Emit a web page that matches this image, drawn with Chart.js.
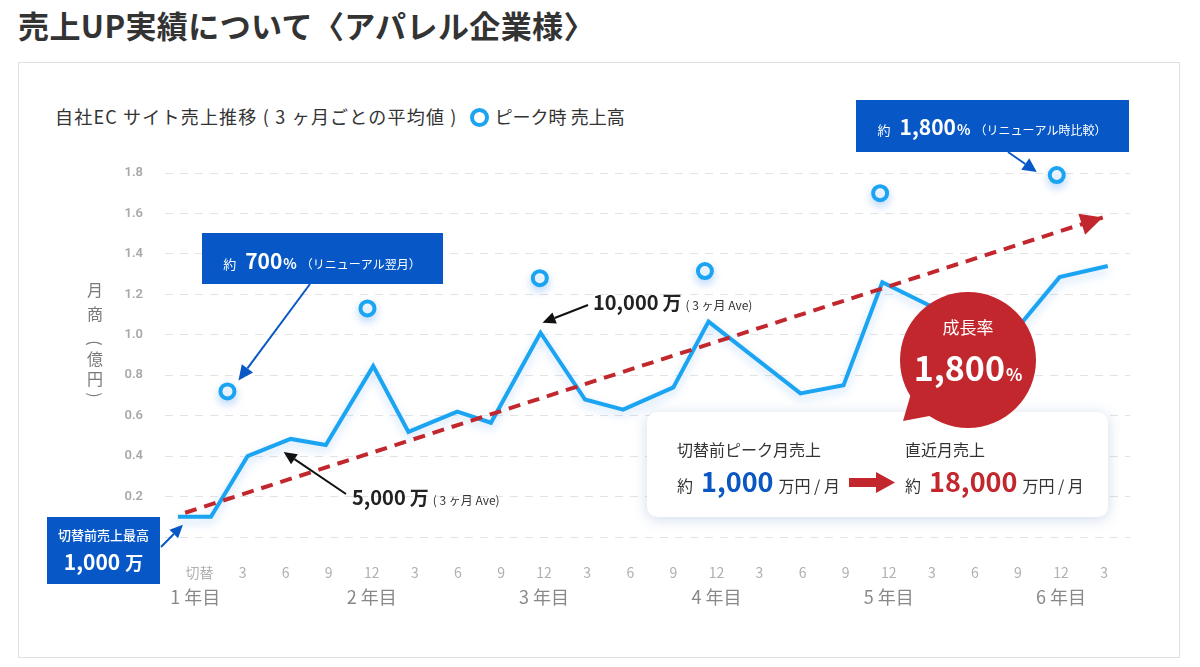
<!DOCTYPE html>
<html lang="ja">
<head>
<meta charset="utf-8">
<title>売上UP実績について</title>
<script src="https://cdn.jsdelivr.net/npm/chart.js@4.4.1/dist/chart.umd.min.js"></script>
<style>
  html, body { margin: 0; padding: 0; background: #fff; }
  body { width: 1200px; height: 667px; position: relative; overflow: hidden;
         font-family: "Noto Sans CJK JP", "Noto Sans", sans-serif; }
  h1 { position: absolute; left: 18px; top: 4px; margin: 0; font-size: 31px; font-weight: 700;
       color: #333; line-height: 42px; white-space: nowrap; letter-spacing: 0.4px; }
  .card { position: absolute; left: 18px; top: 62px; width: 1162px; height: 596px;
          border: 1px solid #e0e0e0; box-sizing: border-box; }
  .legend { position: absolute; left: 55px; top: 102px; font-size: 18px; color: #333;
            line-height: 28px; white-space: nowrap; }
  .legend .main { letter-spacing: 1.2px; }
  .ring { display: inline-block; width: 11px; height: 11px; border: 4px solid #1ba4f2;
          border-radius: 50%; vertical-align: -3px; margin: 0 6px 0 12px; }
  #chart { position: absolute; left: 0; top: 0; }
</style>
</head>
<body>
<h1>売上UP実績について〈アパレル企業様〉</h1>
<div class="card"></div>
<div class="legend"><span class="main">自社EC サイト売上推移 ( 3 ヶ月ごとの平均値 )</span><span class="ring"></span>ピーク時 売上高</div>
<canvas id="chart" width="1200" height="667"></canvas>
<script>
// x values are months counted from the switch-over (切替 = 0)
const monthTicks = [0, 3, 6, 9, 12, 15, 18, 21, 24, 27, 30, 33, 36, 39, 42, 45, 48, 51, 54, 57, 60, 63];
const monthLabels = ['切替', '3', '6', '9', '12', '3', '6', '9', '12', '3', '6', '9', '12', '3', '6', '9', '12', '3', '6', '9', '12', '3'];
const yearTicks = [-0.3, 12, 24, 36, 48, 60];
const yearLabels = ['1 年目', '2 年目', '3 年目', '4 年目', '5 年目', '6 年目'];

// 3-month average sales (億円)
const salesMonths = [-1.5, 0.8, 3.35, 6.35, 8.8, 12.1, 14.55, 17.95, 20.3, 23.75, 26.85, 29.5, 33.0, 35.45, 41.85, 44.85, 47.55, 56.1, 59.9, 63.25];
const salesValues = [0.10, 0.10, 0.40, 0.485, 0.455, 0.845, 0.52, 0.62, 0.565, 1.01, 0.68, 0.63, 0.74, 1.065, 0.71, 0.75, 1.26, 0.96, 1.285, 1.34];

// peak month sales (億円)
const peakMonths = [1.95, 11.7, 23.7, 35.2, 47.4, 59.7];
const peakValues = [0.72, 1.13, 1.28, 1.315, 1.70, 1.79];

// trend arrow
const trendMonths = [-1, 62.9];
const trendValues = [0.12, 1.58];

const JP = '"Noto Sans CJK JP", "Noto Sans", sans-serif';
const BLUE_LINE = '#1ba4f2';
const BOX_BLUE = '#0758c6';
const RED = '#c1272d';

function toPoints(xs, ys) {
    return xs.map((x, i) => ({ x: x, y: ys[i] }));
}

function drawRuns(ctx, items, x, y, align) {
    let w = 0;
    items.forEach(it => { ctx.font = it[1]; w += ctx.measureText(it[0]).width + (it[3] || 0); });
    let cx = align === 'center' ? x - w / 2 : x;
    ctx.textAlign = 'left';
    ctx.textBaseline = 'alphabetic';
    items.forEach(it => {
        ctx.font = it[1];
        ctx.fillStyle = it[2];
        ctx.fillText(it[0], cx, y);
        cx += ctx.measureText(it[0]).width + (it[3] || 0);
    });
}

function drawArrow(ctx, x1, y1, x2, y2, color, lw, hl, hw) {
    const a = Math.atan2(y2 - y1, x2 - x1);
    const bx = x2 - hl * Math.cos(a), by = y2 - hl * Math.sin(a);
    ctx.strokeStyle = color;
    ctx.lineWidth = lw;
    ctx.beginPath();
    ctx.moveTo(x1, y1);
    ctx.lineTo(bx, by);
    ctx.stroke();
    ctx.fillStyle = color;
    ctx.beginPath();
    ctx.moveTo(x2, y2);
    ctx.lineTo(bx + hw * Math.sin(a), by - hw * Math.cos(a));
    ctx.lineTo(bx - hw * Math.sin(a), by + hw * Math.cos(a));
    ctx.closePath();
    ctx.fill();
}

// soft glow under the blue line and the peak rings
const glowPlugin = {
    id: 'glow',
    beforeDatasetDraw(chart, args) {
        if (args.index === 2) return;
        const ctx = chart.ctx;
        ctx.save();
        ctx.shadowColor = 'rgba(40,130,230,0.28)';
        ctx.shadowBlur = 10;
        ctx.shadowOffsetY = 4;
    },
    afterDatasetDraw(chart, args) {
        if (args.index === 2) return;
        chart.ctx.restore();
    }
};

const notesPlugin = {
    id: 'notes',
    afterDraw(chart) {
        const ctx = chart.ctx;
        const xs = chart.scales.x, ys = chart.scales.y;
        const px = (m, v) => [xs.getPixelForValue(m), ys.getPixelForValue(v)];
        ctx.save();

        // trend arrow head
        const t0 = px(trendMonths[0], trendValues[0]);
        const t1 = px(trendMonths[1], trendValues[1]);
        const a = Math.atan2(t1[1] - t0[1], t1[0] - t0[0]);
        ctx.fillStyle = RED;
        ctx.beginPath();
        ctx.moveTo(t1[0], t1[1]);
        const hb = [t1[0] - 22 * Math.cos(a), t1[1] - 22 * Math.sin(a)];
        ctx.lineTo(hb[0] + 11 * Math.sin(a), hb[1] - 11 * Math.cos(a));
        ctx.lineTo(hb[0] - 11 * Math.sin(a), hb[1] + 11 * Math.cos(a));
        ctx.closePath();
        ctx.fill();

        // y axis title, stacked vertically (brackets turned for vertical writing)
        const yTitle = ['月', '商', '(', '億', '円', ')'];
        const yTitlePos = [290, 314, 343, 359, 379, 395];
        ctx.font = '16px ' + JP;
        ctx.fillStyle = '#7a7a7a';
        ctx.textAlign = 'center';
        ctx.textBaseline = 'middle';
        yTitle.forEach((c, i) => {
            if (c === '(' || c === ')') {
                ctx.save();
                ctx.translate(95, yTitlePos[i]);
                ctx.rotate(Math.PI / 2);
                ctx.fillText(c, 0, 0);
                ctx.restore();
            } else {
                ctx.fillText(c, 95, yTitlePos[i]);
            }
        });

        // box: 切替前売上最高
        const s0 = px(salesMonths[0], salesValues[0]);
        drawArrow(ctx, 161, 547, s0[0] + 5, s0[1] + 8, BOX_BLUE, 2, 13, 6);
        ctx.fillStyle = BOX_BLUE;
        ctx.fillRect(47, 517, 113, 67);
        ctx.fillStyle = '#fff';
        ctx.font = '500 13px ' + JP;
        ctx.textAlign = 'center';
        ctx.textBaseline = 'middle';
        ctx.fillText('切替前売上最高', 103.5, 535);
        drawRuns(ctx, [['1,000', 'bold 21px ' + JP, '#fff', 5], ['万', 'bold 18px ' + JP, '#fff']], 103.5, 570, 'center');

        // box: 約700%
        const p0 = px(peakMonths[0], peakValues[0]);
        drawArrow(ctx, 310, 284, p0[0] + 11, p0[1] - 11, BOX_BLUE, 2, 15, 7);
        ctx.fillStyle = BOX_BLUE;
        ctx.fillRect(202, 233, 241, 51);
        drawRuns(ctx, [
            ['約', '13px ' + JP, '#fff', 9],
            ['700', 'bold 21px ' + JP, '#fff', 1],
            ['%', 'bold 14px ' + JP, '#fff', 4],
            ['（リニューアル翌月）', '12px ' + JP, '#fff']
        ], 322, 269, 'center');

        // box: 約1,800%
        const p5 = px(peakMonths[5], peakValues[5]);
        drawArrow(ctx, 1008, 152, p5[0] - 20, p5[1] - 3, BOX_BLUE, 2, 14, 7);
        ctx.fillStyle = BOX_BLUE;
        ctx.fillRect(856, 100, 273, 52);
        drawRuns(ctx, [
            ['約', '13px ' + JP, '#fff', 9],
            ['1,800', 'bold 21px ' + JP, '#fff', 1],
            ['%', 'bold 14px ' + JP, '#fff', 4],
            ['（リニューアル時比較）', '12px ' + JP, '#fff']
        ], 992, 135, 'center');

        // 5,000万 label
        const s3 = px(salesMonths[3], salesValues[3]);
        drawArrow(ctx, 346, 494, s3[0] - 7, s3[1] + 13, '#111', 2, 13, 6);
        drawRuns(ctx, [
            ['5,000', 'bold 20px ' + JP, '#222', 4],
            ['万', 'bold 19px ' + JP, '#222', 4],
            ['( 3 ヶ月 Ave)', '12px ' + JP, '#333']
        ], 352, 505, 'left');

        // 10,000万 label
        const s9 = px(salesMonths[9], salesValues[9]);
        drawArrow(ctx, 588, 305, s9[0] + 2, s9[1] - 10, '#111', 2, 13, 6);
        drawRuns(ctx, [
            ['10,000', 'bold 20px ' + JP, '#222', 4],
            ['万', 'bold 19px ' + JP, '#222', 4],
            ['( 3 ヶ月 Ave)', '12px ' + JP, '#333']
        ], 593, 310, 'left');

        // info card
        ctx.save();
        ctx.shadowColor = 'rgba(60,110,170,0.25)';
        ctx.shadowBlur = 14;
        ctx.shadowOffsetY = 2;
        ctx.fillStyle = '#fff';
        ctx.beginPath();
        ctx.roundRect(647, 412, 461, 105, 10);
        ctx.fill();
        ctx.restore();
        ctx.fillStyle = '#333';
        ctx.font = '16px ' + JP;
        ctx.textAlign = 'left';
        ctx.textBaseline = 'alphabetic';
        ctx.fillText('切替前ピーク月売上', 677, 456);
        ctx.fillText('直近月売上', 905, 456);
        drawRuns(ctx, [
            ['約', '16px ' + JP, '#333', 8],
            ['1,000', 'bold 27px ' + JP, '#0a56c2', 5],
            ['万円 / 月', '16px ' + JP, '#333']
        ], 677, 492, 'left');
        drawRuns(ctx, [
            ['約', '16px ' + JP, '#333', 8],
            ['18,000', 'bold 27px ' + JP, RED, 5],
            ['万円 / 月', '16px ' + JP, '#333']
        ], 905, 492, 'left');
        ctx.fillStyle = RED;
        ctx.fillRect(849, 478, 29, 9);
        ctx.beginPath();
        ctx.moveTo(876, 472);
        ctx.lineTo(895, 482.5);
        ctx.lineTo(876, 493);
        ctx.closePath();
        ctx.fill();

        // growth bubble
        ctx.fillStyle = RED;
        ctx.beginPath();
        ctx.arc(968, 360, 68, 0, Math.PI * 2);
        ctx.fill();
        ctx.beginPath();
        ctx.moveTo(903, 421);
        ctx.lineTo(912, 390);
        ctx.lineTo(940, 414);
        ctx.closePath();
        ctx.fill();
        ctx.fillStyle = '#fff';
        ctx.font = '17px ' + JP;
        ctx.textAlign = 'center';
        ctx.textBaseline = 'middle';
        ctx.fillText('成長率', 968, 328);
        drawRuns(ctx, [
            ['1,800', 'bold 34px ' + JP, '#fff', 1],
            ['%', 'bold 17px ' + JP, '#fff']
        ], 968, 381, 'center');

        ctx.restore();
    }
};

const ctx = document.getElementById('chart').getContext('2d');
new Chart(ctx, {
    type: 'line',
    data: {
        datasets: [{
            label: 'ピーク時 売上高',
            data: toPoints(peakMonths, peakValues),
            showLine: false,
            pointRadius: 7,
            pointBorderWidth: 4,
            pointBackgroundColor: '#fff',
            pointBorderColor: BLUE_LINE,
            clip: false,
            order: 1
        }, {
            label: '自社ECサイト売上推移',
            data: toPoints(salesMonths, salesValues),
            borderColor: BLUE_LINE,
            borderWidth: 4,
            borderJoinStyle: 'miter',
            pointRadius: 0,
            tension: 0,
            clip: false,
            order: 3
        }, {
            label: 'trend',
            data: toPoints(trendMonths, trendValues),
            borderColor: RED,
            borderWidth: 4,
            borderDash: [12, 8],
            pointRadius: 0,
            tension: 0,
            clip: false,
            order: 2
        }]
    },
    options: {
        responsive: false,
        animation: false,
        events: [],
        layout: { padding: { top: 173, right: 70, bottom: 42, left: 0 } },
        plugins: { legend: { display: false }, tooltip: { enabled: false } },
        scales: {
            x: {
                type: 'linear',
                min: -2.4,
                max: 64.8,
                afterBuildTicks: (axis) => { axis.ticks = monthTicks.map(v => ({ value: v })); },
                afterFit: (axis) => { axis.height = 48; },
                grid: { display: false, drawTicks: false },
                border: { display: false },
                ticks: {
                    callback: (v, i) => monthLabels[i],
                    autoSkip: false,
                    maxRotation: 0,
                    padding: 27,
                    color: '#b0b0b0',
                    font: { size: 14, family: JP }
                }
            },
            x2: {
                type: 'linear',
                position: 'bottom',
                min: -2.4,
                max: 64.8,
                afterBuildTicks: (axis) => { axis.ticks = yearTicks.map(v => ({ value: v })); },
                afterFit: (axis) => { axis.height = 40; },
                grid: { display: false, drawTicks: false },
                border: { display: false },
                ticks: {
                    callback: (v, i) => yearLabels[i],
                    autoSkip: false,
                    maxRotation: 0,
                    padding: 1,
                    color: '#888',
                    font: { size: 18, family: JP }
                }
            },
            y: {
                min: 0,
                max: 1.8,
                afterFit: (axis) => { axis.width = 165; },
                grid: { color: '#e3e3e3', lineWidth: 1, drawTicks: false },
                border: { display: false, dash: [8, 7] },
                ticks: {
                    stepSize: 0.2,
                    padding: 22,
                    color: '#a8a8a8',
                    font: { size: 13, weight: '600', family: 'Roboto, "Noto Sans", sans-serif' },
                    callback: (v) => v === 0 ? '' : v.toFixed(1)
                }
            }
        }
    },
    plugins: [glowPlugin, notesPlugin]
});
</script>
</body>
</html>
